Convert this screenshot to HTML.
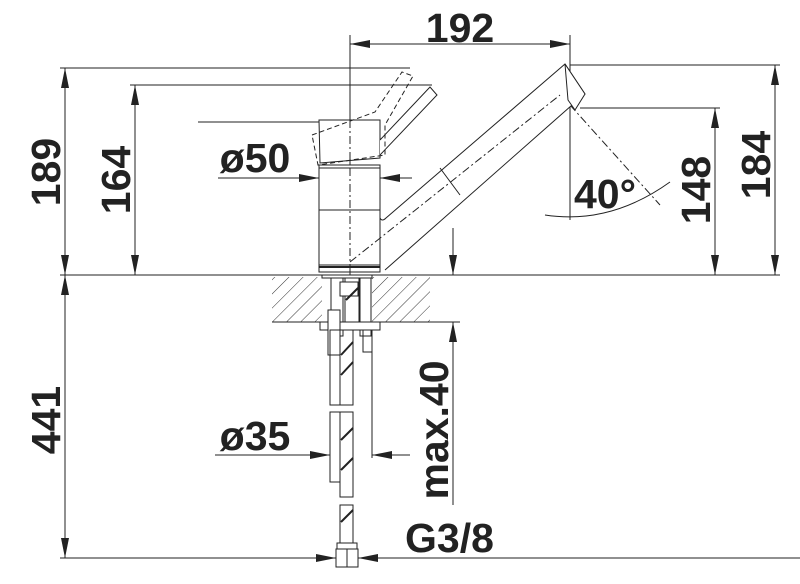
<!DOCTYPE html>
<html><head><meta charset="utf-8"><style>body{margin:0;background:#fff}svg{display:block}text{font-family:"Liberation Sans",Arial,sans-serif;font-weight:bold;fill:#222}</style></head><body>
<svg width="800" height="584" viewBox="0 0 800 584" xmlns="http://www.w3.org/2000/svg">
<defs>
<marker id="b" viewBox="0 0 20 8" refX="20" refY="4" markerWidth="20" markerHeight="8" orient="auto-start-reverse" markerUnits="userSpaceOnUse"><path d="M0,0L20,4L0,8z" fill="#222"/></marker>
<pattern id="h" width="10" height="10" patternUnits="userSpaceOnUse" patternTransform="rotate(45)"><line x1="0" y1="0" x2="0" y2="10" stroke="#333" stroke-width="1"/></pattern>
</defs>
<g stroke="#222" stroke-width="1" fill="none">
<line x1="60" y1="68" x2="410" y2="68"/>
<line x1="130" y1="85" x2="432" y2="85"/>
<line x1="198" y1="122" x2="320" y2="122"/>
<line x1="60" y1="275" x2="780" y2="275"/>
<line x1="60" y1="558" x2="330" y2="558"/>
<line x1="570" y1="65" x2="780" y2="65"/>
<line x1="580" y1="108" x2="720" y2="108"/>
<line x1="570" y1="35" x2="570" y2="220"/>
<line x1="350" y1="35" x2="350" y2="275"/>
<line x1="430" y1="322" x2="460" y2="322"/>
<line x1="65" y1="68" x2="65" y2="275" marker-start="url(#b)" marker-end="url(#b)"/>
<line x1="135" y1="85" x2="135" y2="275" marker-start="url(#b)" marker-end="url(#b)"/>
<line x1="65" y1="275" x2="65" y2="558" marker-start="url(#b)" marker-end="url(#b)"/>
<line x1="350" y1="44" x2="570" y2="44" marker-start="url(#b)" marker-end="url(#b)"/>
<line x1="775" y1="65" x2="775" y2="275" marker-start="url(#b)" marker-end="url(#b)"/>
<line x1="715" y1="108" x2="715" y2="275" marker-start="url(#b)" marker-end="url(#b)"/>
<line x1="218" y1="178" x2="319" y2="178" marker-end="url(#b)"/>
<line x1="412" y1="178" x2="380" y2="178" marker-end="url(#b)"/>
<line x1="215" y1="455" x2="330" y2="455" marker-end="url(#b)"/>
<line x1="410" y1="455" x2="372" y2="455" marker-end="url(#b)"/>
<line x1="372" y1="340" x2="372" y2="458"/>
<line x1="453" y1="228" x2="453" y2="275" marker-end="url(#b)"/>
<line x1="453" y1="505" x2="453" y2="322" marker-end="url(#b)"/>
<line x1="285" y1="558" x2="336" y2="558" marker-end="url(#b)"/>
<line x1="395" y1="558" x2="358" y2="558" marker-end="url(#b)"/>
<line x1="358" y1="558" x2="800" y2="558"/>
<path d="M545,215 Q610,225 670,182"/>
<line x1="570" y1="105" x2="660" y2="205" stroke-dasharray="8,3,2,3"/>
<rect x="272" y="277" width="50" height="45" fill="url(#h)" stroke="none"/>
<rect x="372" y="277" width="58" height="45" fill="url(#h)" stroke="none"/>
<line x1="272" y1="322" x2="430" y2="322"/>
<rect x="319" y="165" width="61" height="100" fill="#fff"/>
<rect x="319" y="265" width="61" height="7" fill="#fff"/>
<line x1="319" y1="267" x2="380" y2="267" stroke-width="2"/>
<path d="M319,120 L380,120 L380,158 L320,163 Z" fill="#fff"/>
<line x1="319" y1="168" x2="380" y2="168"/>
<line x1="319" y1="210" x2="380" y2="210"/>
<path d="M380,140 L430,87 L437,95 L380,155" fill="#fff"/>
<path d="M312,135 L375,112 L402,72 L413,76 L385,125 L385,155 L318,165 Z" stroke-dasharray="5,3"/>
<path d="M380,213 L380,218 Q382,222 386,218 L565,64 L585,94 L580,98 L385,270" fill="#fff"/>
<path d="M565,64 L585,94 L575,110 L568,100 Z" fill="#fff"/>
<line x1="440" y1="168" x2="460" y2="195"/>
<line x1="350" y1="262" x2="560" y2="95" stroke-dasharray="8,3,2,3"/>
<line x1="350" y1="120" x2="350" y2="275" stroke-dasharray="8,3,2,3"/>
<rect x="322" y="275" width="50" height="3"/>
<rect x="331" y="278" width="12" height="58" fill="#fff"/>
<rect x="345" y="278" width="14" height="50" fill="#fff"/>
<rect x="340" y="282" width="18" height="14" fill="#fff"/>
<rect x="360" y="278" width="11" height="58" fill="#fff"/>
<rect x="320" y="322" width="60" height="8" fill="#fff"/>
<rect x="328" y="310" width="12" height="45" fill="#fff"/>
<rect x="330" y="330" width="10" height="75"/>
<rect x="340" y="330" width="13" height="75"/>
<rect x="363" y="330" width="9" height="22"/>
<rect x="330" y="412" width="10" height="70"/>
<rect x="340" y="412" width="13" height="85"/>
<rect x="340" y="505" width="13" height="38"/>
<rect x="337" y="543" width="20" height="6"/>
<rect x="336" y="549" width="22" height="18" fill="#fff"/>
<line x1="347" y1="549" x2="347" y2="567"/>
<g stroke-width="2"><path d="M341,355 L353,342 M341,375 L353,362 M341,440 L353,428 M341,470 L353,458 M341,522 L353,510 M346,300 L358,288"/></g>
</g>
<g font-size="41">
<text x="460" y="42" text-anchor="middle">192</text>
<text x="255" y="172" text-anchor="middle">ø50</text>
<text x="255" y="450" text-anchor="middle">ø35</text>
<text x="405" y="552" text-anchor="start">G3/8</text>
<text x="605" y="208" text-anchor="middle">40°</text>
<text transform="translate(60,172) rotate(-90)" text-anchor="middle">189</text>
<text transform="translate(130,180) rotate(-90)" text-anchor="middle">164</text>
<text transform="translate(60,420) rotate(-90)" text-anchor="middle">441</text>
<text transform="translate(710,190) rotate(-90)" text-anchor="middle">148</text>
<text transform="translate(770,165) rotate(-90)" text-anchor="middle">184</text>
<text transform="translate(448,430) rotate(-90)" text-anchor="middle">max.40</text>
</g>
</svg>
</body></html>
